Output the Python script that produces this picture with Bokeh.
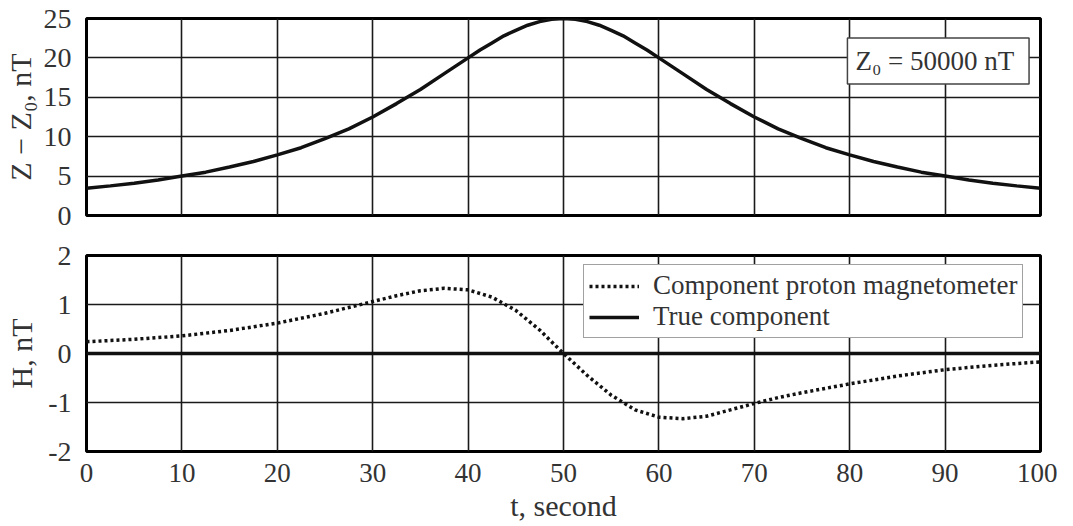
from bokeh.plotting import figure
from bokeh.layouts import column
from bokeh.models import Range1d, FixedTicker, Label, Legend, LegendItem
from bokeh.embed import file_html
from bokeh.resources import INLINE

# ---- data ----
t_z = [0, 2.5, 5, 7.5, 10, 12.5, 15, 17.5, 20, 22.5, 25, 27.5, 30, 32.5, 35, 37.5, 40, 41.25, 42.5, 43.75, 45, 46.25,
       47.5, 48.75, 50, 51.25, 52.5, 53.75, 55, 56.25, 57.5, 58.75, 60, 62.5, 65, 67.5, 70, 72.5, 75, 77.5, 80,
       82.5, 85, 87.5, 90, 92.5, 95, 97.5, 100]
z_anom = [3.45, 3.76, 4.1, 4.5, 5.0, 5.5, 6.15, 6.85, 7.7, 8.6, 9.75, 11.0, 12.5, 14.2, 16.0, 18.0, 20.0, 21.0, 21.9, 22.8, 23.5, 24.15,
          24.6, 24.9, 25.0, 24.9, 24.6, 24.15, 23.5, 22.8, 21.9, 21.0, 20.0, 18.0, 16.0, 14.2, 12.5, 11.0, 9.75, 8.6, 7.7,
          6.85, 6.15, 5.5, 5.0, 4.5, 4.1, 3.76, 3.45]

t_h = [0, 5, 10, 15, 20, 25, 30, 32.5, 35, 37.5, 40, 42.5, 45, 47.5, 50, 52.5, 55, 57.5, 60, 62.5, 65,
       67.5, 70, 72.5, 75, 80, 85, 90, 95, 100]
h_proton = [0.24, 0.29, 0.36, 0.47, 0.62, 0.82, 1.06, 1.18, 1.28, 1.33, 1.30, 1.15, 0.88, 0.48, 0.0, -0.45, -0.85, -1.15, -1.30, -1.33, -1.28,
            -1.15, -1.02, -0.90, -0.80, -0.62, -0.46, -0.33, -0.24, -0.17]
t_true = [0, 100]
h_true = [0, 0]

x_ticks = [0, 10, 20, 30, 40, 50, 60, 70, 80, 90, 100]
z_ticks = [0, 5, 10, 15, 20, 25]
h_ticks = [-2, -1, 0, 1, 2]
h_tick_labels = {-2: "-2", -1: "-1", 0: "0", 1: "1", 2: "2"}

FONT = "Liberation Serif"
ML = 80
MR = 17
W = ML + 960 + MR


def style(p):
    p.outline_line_color = "black"
    p.outline_line_width = 3
    p.background_fill_color = "white"
    p.border_fill_color = "white"
    for g in (p.xgrid, p.ygrid):
        g.grid_line_color = "#1a1a1a"
        g.grid_line_width = 1.6
    for ax in (p.xaxis, p.yaxis):
        ax.axis_line_color = None
        ax.major_tick_line_color = None
        ax.minor_tick_line_color = None
        ax.major_label_text_font = FONT
        ax.major_label_text_font_size = "28px"
        ax.major_label_text_color = "#333333"
        ax.axis_label_text_font = FONT
        ax.axis_label_text_font_size = "30px"
        ax.axis_label_text_font_style = "normal"
        ax.axis_label_text_color = "#333333"
        ax.major_label_standoff = 9


# ---- top figure ----
p1 = figure(width=W, height=235, output_backend="svg", toolbar_location=None,
            x_range=Range1d(0, 100), y_range=Range1d(0, 25),
            min_border_left=ML, min_border_right=MR, min_border_top=18, min_border_bottom=20)
style(p1)
p1.xaxis.visible = False
p1.xgrid.ticker = FixedTicker(ticks=x_ticks)
p1.yaxis.ticker = FixedTicker(ticks=z_ticks)
p1.ygrid.ticker = FixedTicker(ticks=z_ticks)
p1.yaxis.axis_label = "Z − Z₀, nT"
p1.yaxis.axis_label_standoff = 4
p1.line(t_z, z_anom, line_color="#111111", line_width=3.5)

lab = Label(x=98.8, y=19.6, text="Z₀  = 50000 nT", text_align="right", text_baseline="middle",
            text_font=FONT, text_font_size="27px", text_color="#333333",
            background_fill_color="white", border_line_color="#444444", border_line_width=1.5,
            padding=8)
p1.add_layout(lab)

# ---- bottom figure ----
p2 = figure(width=W, height=291, output_backend="svg", toolbar_location=None,
            x_range=Range1d(0, 100), y_range=Range1d(-2, 2),
            min_border_left=ML, min_border_right=MR, min_border_top=20, min_border_bottom=75)
style(p2)
p2.xaxis.ticker = FixedTicker(ticks=x_ticks)
p2.xgrid.ticker = FixedTicker(ticks=x_ticks)
p2.xaxis.major_label_standoff = 6
p2.xaxis.major_label_text_font_size = "27px"
p2.yaxis.ticker = FixedTicker(ticks=h_ticks)
p2.ygrid.ticker = FixedTicker(ticks=h_ticks)
p2.yaxis.major_label_overrides = h_tick_labels
p2.yaxis.axis_label = "H, nT"
p2.yaxis.axis_label_standoff = 7
p2.xaxis.axis_label = "t, second"
p2.xaxis.axis_label_standoff = 4

r_dot = p2.line(t_h, h_proton, line_color="#111111", line_width=3.5, line_dash="3 3")
r_true = p2.line(t_true, h_true, line_color="#111111", line_width=3.5)

leg = Legend(items=[LegendItem(label="Component proton magnetometer", renderers=[r_dot]),
                    LegendItem(label="True component", renderers=[r_true])],
             location=(497, 113))
leg.label_text_font = FONT
leg.label_text_font_size = "27px"
leg.label_text_color = "#333333"
leg.border_line_color = "#444444"
leg.border_line_width = 1.5
leg.background_fill_alpha = 1.0
leg.glyph_width = 50
leg.glyph_height = 20
leg.label_height = 20
leg.spacing = 0
leg.padding = 5
leg.margin = 0
leg.label_standoff = 14
p2.add_layout(leg, "center")

layout = column(p1, p2, spacing=0)
open("out.html", "w").write(file_html(layout, INLINE))
